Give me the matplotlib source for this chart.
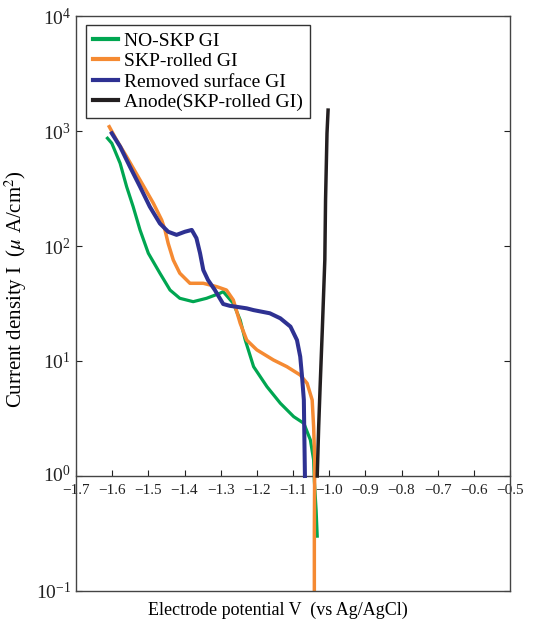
import matplotlib
matplotlib.use('Agg')
import matplotlib.pyplot as plt
from matplotlib.ticker import LogLocator, NullLocator, MultipleLocator
from matplotlib.transforms import ScaledTranslation

plt.rcParams['font.family'] = 'serif'
plt.rcParams['font.serif'] = ['Liberation Serif', 'DejaVu Serif']
plt.rcParams['mathtext.fontset'] = 'stix'

# polarization curves: potential (V vs Ag/AgCl) and current density (uA/cm2)
v_noskp = [-1.613, -1.601, -1.578, -1.560, -1.542, -1.523, -1.500, -1.468, -1.440,
           -1.413, -1.376, -1.339, -1.302, -1.293, -1.265, -1.246, -1.232, -1.209,
           -1.172, -1.135, -1.098, -1.070, -1.052, -1.043, -1.041, -1.036, -1.033]
i_noskp = [865, 782, 524, 328, 220, 138, 86.5, 58, 41.4,
           35.1, 32.8, 35.1, 38.8, 40.1, 31.7, 22.7, 15.2, 8.93,
           5.98, 4.29, 3.28, 2.87, 2.06, 1.38, 0.91, 0.50, 0.30]

v_skp = [-1.608, -1.588, -1.560, -1.523, -1.486, -1.463, -1.454, -1.445, -1.431,
         -1.413, -1.385, -1.348, -1.311, -1.284, -1.265, -1.246, -1.228, -1.200,
         -1.154, -1.117, -1.080, -1.061, -1.047, -1.043, -1.040, -1.041, -1.041]
i_skp = [1090, 836, 598, 375, 235, 168, 138, 105, 75.5,
         58, 47.4, 47.4, 44.3, 41.4, 33.9, 21.3, 15.2, 12.5,
         10.2, 8.93, 7.55, 6.4, 4.58, 2.69, 1.38, 0.32, 0.10]

v_removed = [-1.601, -1.578, -1.551, -1.523, -1.496, -1.468, -1.445, -1.422, -1.399,
             -1.380, -1.367, -1.357, -1.348, -1.335, -1.316, -1.293, -1.275, -1.256,
             -1.228, -1.209, -1.164, -1.135, -1.107, -1.089, -1.080, -1.075, -1.070,
             -1.069, -1.067]
i_removed = [955, 731, 490, 328, 220, 157, 133, 125, 133,
             138, 117, 86.5, 61.8, 50.6, 41.4, 31.3, 30.2, 29.6,
             28.7, 27.7, 26.0, 23.5, 19.9, 15.2, 10.9, 7.31, 4.58,
             2.69, 1.0]

v_anode = [-1.033, -1.029, -1.025, -1.019, -1.012, -1.010, -1.006, -1.003]
i_anode = [1.0, 2.69, 6.0, 18.6, 75.9, 251, 955, 1520]

labels = ['NO-SKP GI', 'SKP-rolled GI', 'Removed surface GI', 'Anode(SKP-rolled GI)']
colors = ['#00a651', '#f58a32', '#2e3192', '#231f20']

fig = plt.figure(figsize=(5.34, 6.22), dpi=100)
ax = fig.add_axes([76 / 534, 31 / 622, 434 / 534, 575 / 622])

ax.plot(v_noskp, i_noskp, color=colors[0], lw=2.3, label=labels[0], zorder=2)
ax.plot(v_skp, i_skp, color=colors[1], lw=2.5, label=labels[1], zorder=3)
ax.plot(v_removed, i_removed, color=colors[2], lw=2.9, label=labels[2], zorder=4)
ax.plot(v_anode, i_anode, color=colors[3], lw=2.5, label=labels[3], zorder=5)

ax.set_yscale('log')
ax.set_xlim(-1.7, -0.5)
ax.set_ylim(0.1, 1e4)
ax.yaxis.set_major_locator(LogLocator(base=10, numticks=10))
ax.yaxis.set_minor_locator(NullLocator())
ax.xaxis.set_major_locator(MultipleLocator(0.1))

# x axis sits on the 10^0 line, box edge kept at the bottom
ax.spines['bottom'].set_position(('data', 1))
ax.plot([0, 1], [0, 0], transform=ax.transAxes, color='#444444', lw=1.0,
        clip_on=False, zorder=6)
for s in ax.spines.values():
    s.set_color('#444444')
    s.set_linewidth(1.0)

ax.tick_params(axis='x', direction='in', length=4, width=0.8, labelsize=11, pad=6,
               colors='#222222')
ax.tick_params(axis='y', direction='in', length=4, width=0.8, labelsize=14,
               left=True, right=True, colors='#222222')
ax.set_xticks([round(-1.7 + 0.1 * k, 1) for k in range(13)])
ax.set_xticklabels(['\u2212%.1f' % abs(-1.7 + 0.1 * k) for k in range(13)])

# lift the 10^0 label a touch so it clears the -1.7 label
fig.canvas.draw()
for t in ax.get_yticklabels():
    if t.get_position()[1] == 1:
        t.set_transform(t.get_transform() + ScaledTranslation(0, 2 / 72, fig.dpi_scale_trans))

ax.set_xlabel('Electrode potential V  (vs Ag/AgCl)', fontsize=13)
ax.xaxis.set_label_coords(0.465, -0.018)
ax.set_ylabel(r'Current density I  ($\mu$ A/cm$^2$)', fontsize=15)
ax.yaxis.set_label_coords(-0.108, 0.525)

leg = ax.legend(loc='upper left', bbox_to_anchor=(0.023, 0.984), borderaxespad=0,
                fontsize=14, fancybox=False, edgecolor='#333333', framealpha=1,
                handlelength=1.3, handletextpad=0.3, labelspacing=0.15,
                borderpad=0.35)
leg.get_frame().set_linewidth(1.0)
for line in leg.get_lines():
    line.set_linewidth(3)

fig.savefig('out.png', dpi=100)
